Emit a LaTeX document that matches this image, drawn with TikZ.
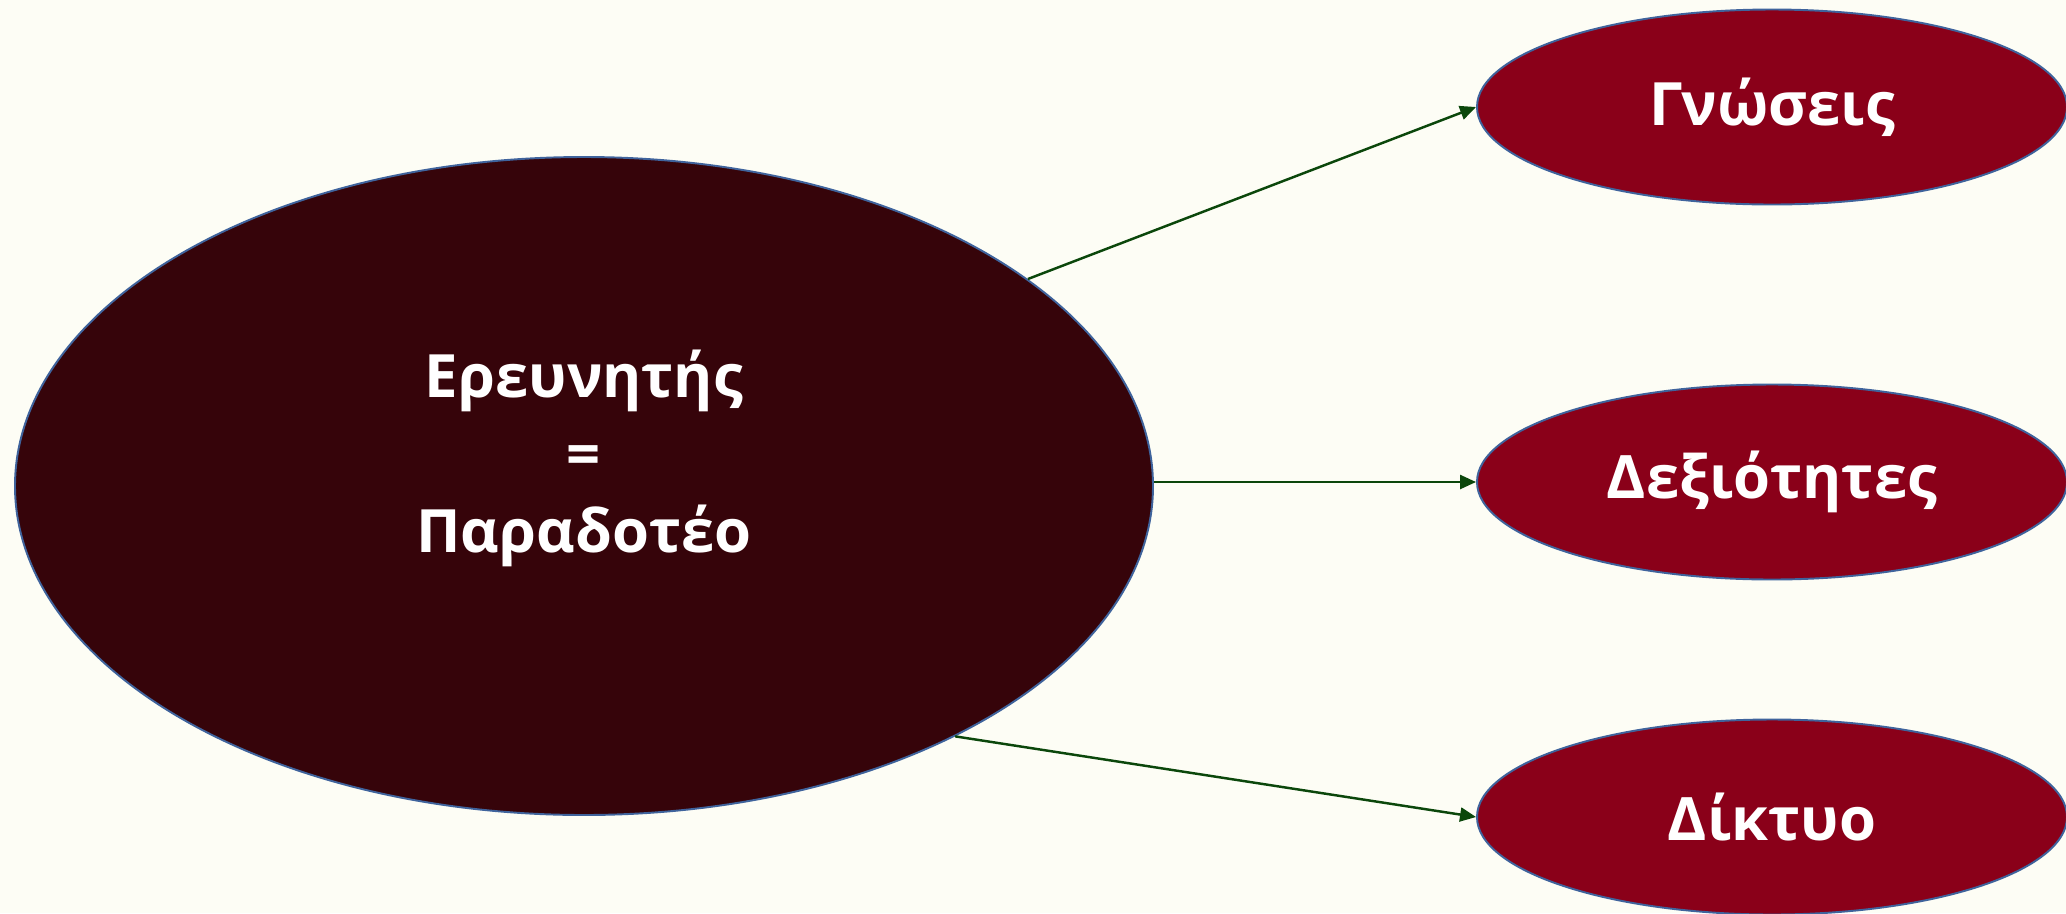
\documentclass[tikz,border=0pt]{standalone}
\usepackage{fontspec}
\setmainfont{Open Sans}
\usetikzlibrary{shapes.geometric,arrows.meta}
\definecolor{bgivory}{HTML}{FDFDF5}
\definecolor{darkwine}{HTML}{36040A}
\definecolor{wine}{HTML}{8A0019}
\definecolor{rimblue}{HTML}{3F639C}
\definecolor{arrgreen}{HTML}{0B470B}
\tikzset{
  bubtext/.style={text=white,font=\bfseries\fontsize{34}{44}\selectfont,align=center},
  bubble/.style={ellipse,draw=rimblue,line width=1.1pt,inner sep=0pt,bubtext},
  bigbubble/.style={bubble,fill=darkwine,minimum width=22.76cm,minimum height=13.16cm},
  smallbubble/.style={bubble,fill=wine,minimum width=11.8cm,minimum height=3.9cm},
  link/.style={draw=arrgreen,line width=1.4pt,-{Triangle[length=0.32cm,width=0.28cm]}}
}
\begin{document}
\begin{tikzpicture}
\fill[bgivory] (0,0) rectangle (41.32,-18.26);
\useasboundingbox (0,0) rectangle (41.32,-18.26);
% centre and the three targets
\node[bigbubble] (res) at (11.68,-9.72) {};
\node[bubtext] (restxt) at ([yshift=0.55cm]res.center) {Ερευνητής\\=\\Παραδοτέο};
\node[smallbubble] (know) at (35.44,-2.14) {Γνώσεις};
\node[smallbubble] (skill) at (35.44,-9.64) {Δεξιότητες};
\node[smallbubble] (net) at (35.44,-16.34) {Δίκτυο};
\draw[link] (res.25) -- (know.west);
\draw[link] (skill.west -| res.east) -- (skill.west);
\draw[link] (res.-34) -- (net.west);
\end{tikzpicture}
\end{document}
